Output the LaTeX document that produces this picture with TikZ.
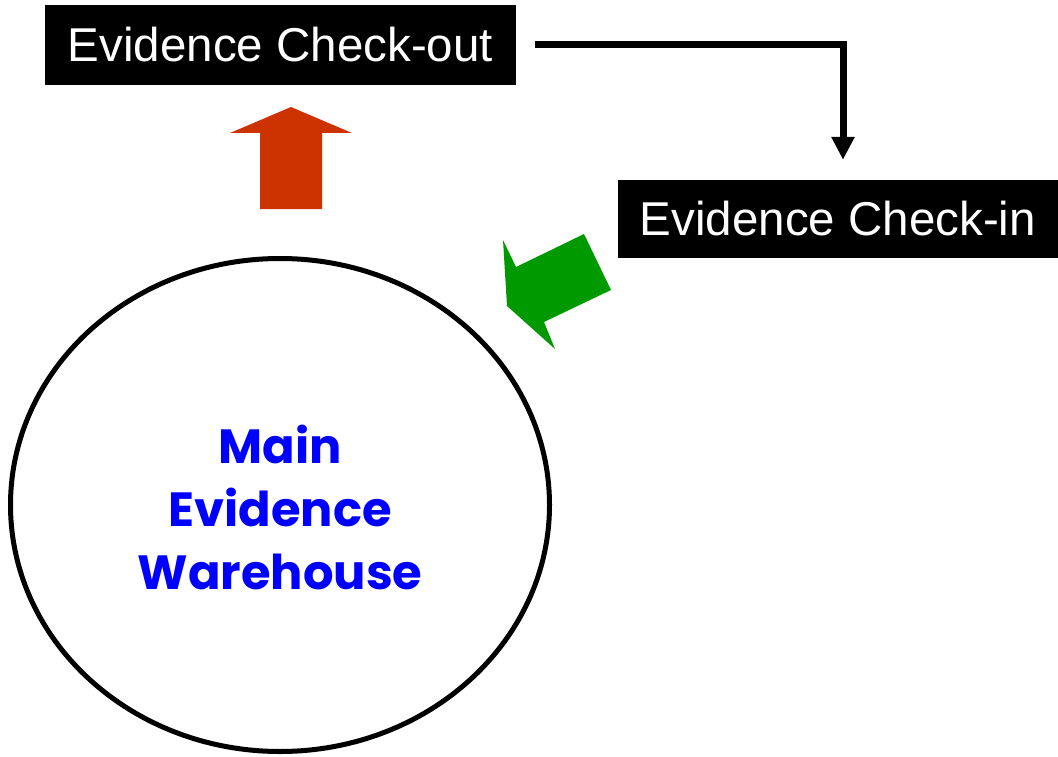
\documentclass[tikz,border=0pt]{standalone}
\usepackage{fontspec}
\setmainfont{Liberation Sans}
\newfontfamily\housefont{Poppins}
\usepackage{tikz}
\usetikzlibrary{positioning, arrows.meta, shapes.geometric, calc}

\definecolor{outred}{HTML}{CC3300}
\definecolor{ingreen}{HTML}{009900}

\begin{document}
\begin{tikzpicture}[
    x=1pt, y=-1pt,
    stage/.style={rectangle, fill=black, text=white, inner sep=0pt,
                  font=\fontsize{47.5}{57}\selectfont},
    store/.style={ellipse, draw=black, line width=5pt, inner sep=0pt},
    storetext/.style={align=center, text=blue, inner sep=0pt,
                  font=\housefont\fontsize{48}{63}\selectfont\bfseries},
    flow/.style={-{Triangle[length=23pt, width=22pt]}, line width=7pt},
    blockarrow/.style={draw=none}
]
    \useasboundingbox (0,0) rectangle (1058,757);

    % Check-out / check-in labels
    \node[stage, minimum width=471pt, minimum height=80pt] (cout) at (280.5,45) {Evidence Check-out};
    \node[stage, minimum width=440pt, minimum height=78pt] (cin) at (838,219) {Evidence Check-in};

    % Warehouse
    \node[store, minimum width=539pt, minimum height=493pt] (house) at (280,505) {};
    \node[storetext] (houselabel) at ([yshift=-2pt]house.center) {Main\\Evidence\\Warehouse};

    % Connector from check-out to check-in
    \draw[flow] ([xshift=19pt]cout.east) -| ([xshift=5pt, yshift=20pt]cin.north);

    % Block arrows
    \fill[blockarrow, outred] (291,107) -- (352,133) -- (322,133) -- (322,209)
        -- (260,209) -- (260,133) -- (230,133) -- cycle;
    \fill[blockarrow, ingreen] (503,240) -- (516,267) -- (584,234) -- (611,290)
        -- (544,322) -- (555,349) -- (507,306) -- cycle;

\end{tikzpicture}
\end{document}
